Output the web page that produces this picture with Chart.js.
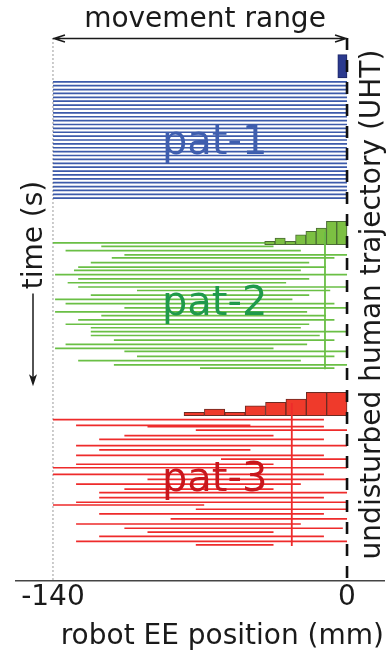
<!DOCTYPE html>
<html>
<head>
<meta charset="utf-8">
<script src="https://cdn.jsdelivr.net/npm/chart.js@4.4.1/dist/chart.umd.min.js"></script>
<style>
  html, body { margin: 0; padding: 0; background: #fff; }
</style>
</head>
<body>
<canvas id="chart" width="389" height="656"></canvas>
<script>
// x: robot end-effector position (mm), y: time (s), growing downwards
const RANGE_MM = [-140, 0];
const HIST_S_PER_COUNT = 0.86;   // drawn height of one histogram count

// one entry per sweep: time (s), near end and far end (mm)
const pat1Times = [11.3, 12.3, 13.3, 14.3, 15.3, 16.3, 17.3, 18.3, 19.3, 20.3, 21.3, 22.3, 23.3, 24.3, 25.3, 26.3,
                   27.3, 28.3, 29.3, 30.3, 31.3, 32.3, 33.3, 34.3, 35.3, 36.3, 37.3, 38.3, 39.3, 40.3, 41.3];
const pat1Left  = [-140, -140, -140, -140, -140, -140, -140, -140, -140, -140, -140, -140, -140, -140, -140, -140,
                   -140, -140, -140, -140, -140, -140, -140, -140, -140, -140, -140, -140, -140, -140, -140];
const pat1Right = [0, 0, 0, 0, 0, 0, 0, 0, 0, 0, 0, 0, 0, 0, 0, 0,
                   0, 0, 0, 0, 0, 0, 0, 0, 0, 0, 0, 0, 0, 0, 0];

const pat2Times = [52.8, 53.7, 54.8, 55.9, 56.7, 57.9, 59.1, 59.9, 61.0, 62.1, 63.1, 64.2, 65.1, 66.3, 67.4, 68.5,
                   69.6, 70.6, 71.6, 72.7, 73.8, 74.7, 75.7, 76.7, 77.9, 79.0, 80.0, 80.8, 82.1, 83.2, 84.3, 85.1];
const pat2Left  = [-140, -117, -134, -106, -112, -122, -128, -130, -139, -128, -133, -128, -100, -122, -139, -134,
                   -106, -139, -117, -128, -134, -122, -122, -122, -111, -134, -139, -106, -100, -128, -111, -70];
const pat2Right = [-10, -35, -22, 0, -6, -18, -10, -22, 0, -18, -29, 0, -8, -18, -26, -6,
                   0, -19, -10, -6, -18, -22, 0, -13, -6, -19, -35, 0, -6, -22, 0, -6];

const pat3Times = [98.4, 99.9, 100.2, 101.1, 102.5, 103.5, 105.1, 106.2, 107.6, 108.6, 109.9, 110.8, 112.5, 113.8, 115.0,
                   116.3, 117.2, 118.5, 119.7, 120.4, 121.5, 122.7, 124.0, 125.3, 126.4, 127.4, 128.5, 129.8, 130.7];
const pat3Left  = [-140, -129, -95, -72, -106, -118, -129, -118, -129, -60, -129, -140, -140, -95, -129,
                   -106, -118, -118, -129, -140, -72, -118, -84, -129, -106, -95, -118, -129, -72];
const pat3Right = [-11, -46, -11, 0, -35, -11, 0, -46, -11, 0, -35, 0, -11, 0, -22,
                   -35, 0, -11, 0, -68, 0, -11, 0, -22, -2, -35, -11, 0, -35];

// histogram of the far end, bins ending at 0 mm; base time (s)
const pat1Hist = [7];
const pat2Hist = [1, 2, 1, 3, 4, 5, 7, 7];
const pat3Hist = [1, 2, 1, 3, 4, 5, 7, 7];
const pat1BinMm = 4.4, pat2BinMm = 4.9, pat3BinMm = 9.7;
const pat1HistBase = 10.3, pat2HistBase = 53.3, pat3HistBase = 97.4;

// mean of the far end (mm)
const pat2Mean = -10.5;
const pat3Mean = -26.3;

const X_MIN = -157.6, X_MAX = 17.6;
const T_MAX = 140;

const toSegments = (times, lefts, rights) => times.flatMap((t, i) => [
    { x: lefts[i], y: t }, { x: rights[i], y: t }, { x: null, y: null }
]);
const toBars = (counts, binMm, base) => counts.map((c, i) => ({
    x: -(counts.length - i - 0.5) * binMm,
    y: [base, base - c * HIST_S_PER_COUNT]
}));
const mmToPx = (chart, mm) => Math.abs(chart.scales.x.getPixelForValue(mm) - chart.scales.x.getPixelForValue(0));

function sweeps(times, lefts, rights, color) {
    return {
        type: 'scatter', showLine: true, spanGaps: false, data: toSegments(times, lefts, rights),
        borderColor: color, borderWidth: 1.7, pointRadius: 0, order: 6
    };
}

function histogram(counts, binMm, base, fill, edge) {
    return {
        type: 'bar', data: toBars(counts, binMm, base),
        backgroundColor: fill, borderColor: edge, borderWidth: 1, borderSkipped: false,
        grouped: false, barThickness: (c) => mmToPx(c.chart, binMm), order: 3
    };
}

function meanLine(mean, base, times, color) {
    return {
        type: 'scatter', showLine: true,
        data: [{ x: mean, y: base - 3.3 }, { x: mean, y: times[times.length - 1] + 0.3 }],
        borderColor: color, borderWidth: 1.8, pointRadius: 0, order: 1
    };
}

Chart.defaults.font.family = "'DejaVu Sans', sans-serif";
Chart.defaults.color = '#1a1a1a';

const annotate = {
    id: 'annotate',
    afterDatasetsDraw(chart) {
        const { ctx, chartArea: a, scales: { x, y } } = chart;
        const x0 = x.getPixelForValue(RANGE_MM[0]);
        const x1 = x.getPixelForValue(RANGE_MM[1]);
        ctx.save();
        ctx.strokeStyle = '#1a1a1a';
        ctx.fillStyle = '#1a1a1a';

        // movement range arrow
        const ay = a.top + 0.5;
        ctx.lineWidth = 1.5;
        ctx.beginPath();
        ctx.moveTo(x0, ay); ctx.lineTo(x1, ay);
        ctx.moveTo(x0 + 12, ay - 3.5); ctx.lineTo(x0 + 1, ay); ctx.lineTo(x0 + 12, ay + 3.5);
        ctx.moveTo(x1 - 12, ay - 3.5); ctx.lineTo(x1 - 1, ay); ctx.lineTo(x1 - 12, ay + 3.5);
        ctx.stroke();
        ctx.font = "28px 'DejaVu Sans'";
        ctx.textAlign = 'center';
        ctx.textBaseline = 'alphabetic';
        ctx.fillText('movement range', (x0 + x1) / 2 + 5, a.top - 11);

        // right: undisturbed trajectory label
        ctx.save();
        ctx.translate(x1 + 33, (a.top + a.bottom) / 2 - 5);
        ctx.rotate(-Math.PI / 2);
        ctx.fillText('undisturbed human trajectory (UHT)', 0, 0);
        ctx.restore();

        // left: time label with arrow
        ctx.save();
        ctx.translate(a.left + 26, y.getPixelForValue(50.8));
        ctx.rotate(-Math.PI / 2);
        ctx.fillText('time (s)', 0, 0);
        ctx.restore();
        const tx = a.left + 17;
        const tTop = y.getPixelForValue(65.9), tBot = y.getPixelForValue(89.8);
        ctx.lineWidth = 1.5;
        ctx.beginPath(); ctx.moveTo(tx, tTop); ctx.lineTo(tx, tBot - 8); ctx.stroke();
        ctx.beginPath();
        ctx.moveTo(tx - 4, tBot - 12); ctx.lineTo(tx, tBot); ctx.lineTo(tx + 4, tBot - 12);
        ctx.lineTo(tx, tBot - 9); ctx.closePath(); ctx.fill();

        // pattern names
        ctx.font = "40px 'DejaVu Sans'";
        [['pat-1', pat1Times[0], '#3f5eae'], ['pat-2', pat2Times[0], '#1f9a4b'], ['pat-3', pat3Times[0], '#c8161c']]
            .forEach(([name, start, color]) => {
                ctx.fillStyle = color;
                ctx.fillText(name, x.getPixelForValue(-63), y.getPixelForValue(start + 18.5));
            });
        ctx.restore();
    }
};

new Chart(document.getElementById('chart'), {
    type: 'scatter',
    data: {
        datasets: [
            {
                type: 'scatter', showLine: true,
                data: [{ x: RANGE_MM[0], y: 0 }, { x: RANGE_MM[0], y: T_MAX }],
                borderColor: '#9a9a9a', borderWidth: 1, borderDash: [2, 2], pointRadius: 0, order: 9
            },
            {
                type: 'scatter', showLine: true,
                data: [{ x: RANGE_MM[1], y: 0 }, { x: RANGE_MM[1], y: T_MAX }],
                borderColor: '#111', borderWidth: 2.6, borderDash: [12, 10], pointRadius: 0, order: 2
            },
            sweeps(pat1Times, pat1Left, pat1Right, '#3c5aaa'),
            sweeps(pat2Times, pat2Left, pat2Right, '#6abf45'),
            sweeps(pat3Times, pat3Left, pat3Right, '#ee2b2b'),
            histogram(pat1Hist, pat1BinMm, pat1HistBase, '#2b3a8e', '#1d2766'),
            histogram(pat2Hist, pat2BinMm, pat2HistBase, '#7cc042', '#4a6a35'),
            histogram(pat3Hist, pat3BinMm, pat3HistBase, '#ef3a2b', '#6b2a22'),
            meanLine(pat2Mean, pat2HistBase, pat2Times, '#6abf45'),
            meanLine(pat3Mean, pat3HistBase, pat3Times, '#ee2b2b')
        ]
    },
    options: {
        responsive: false,
        animation: false,
        events: [],
        layout: { autoPadding: false, padding: { top: 38, left: 16, right: 5, bottom: 0 } },
        plugins: { legend: { display: false }, tooltip: { enabled: false } },
        scales: {
            x: {
                type: 'linear', min: X_MIN, max: X_MAX, offset: false,
                afterBuildTicks: (s) => { s.ticks = RANGE_MM.map(v => ({ value: v })); },
                grid: { display: false, drawTicks: false },
                border: { display: true, color: '#444', width: 1.5 },
                ticks: { padding: 3, autoSkip: false, maxRotation: 0, font: { size: 28, lineHeight: 1 } },
                title: {
                    display: true, text: 'robot EE position (mm)', align: 'end',
                    font: { size: 28, lineHeight: 1 }, padding: { top: 8, bottom: 5 }
                }
            },
            y: { type: 'linear', reverse: true, min: 0, max: T_MAX, display: false }
        }
    },
    plugins: [annotate]
});
</script>
</body>
</html>
